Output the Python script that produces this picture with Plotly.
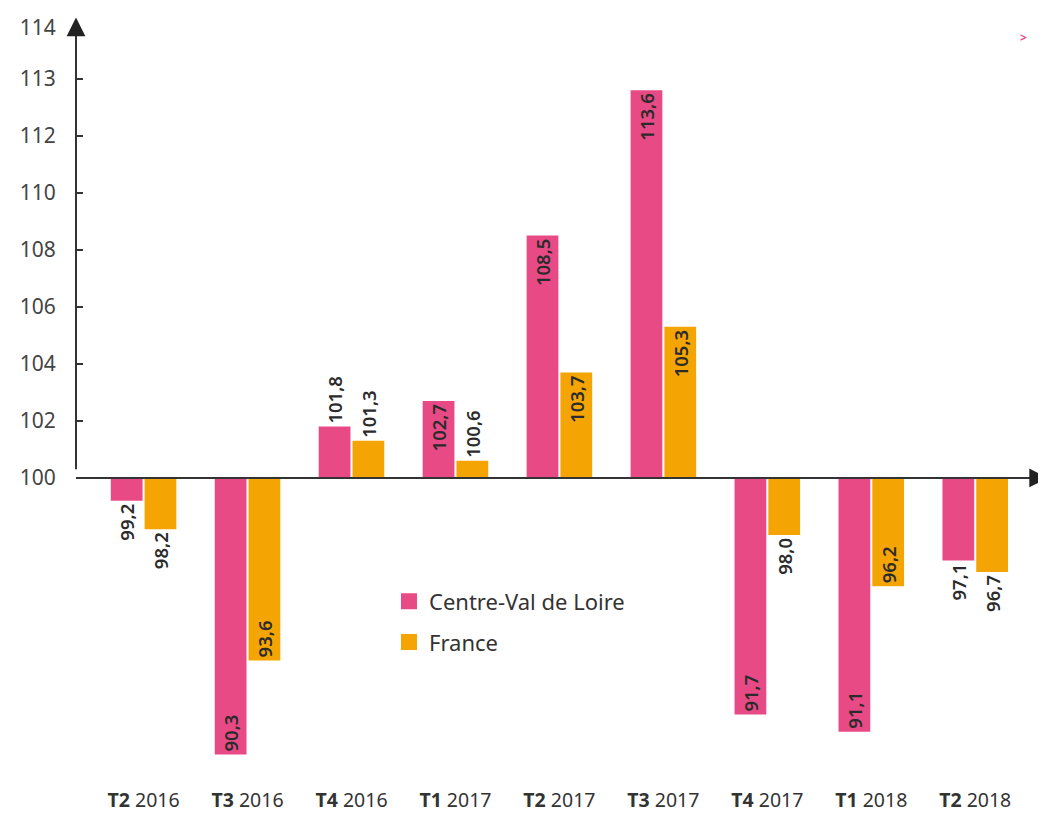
import plotly.graph_objects as go

# ---- data ----
quarters = ["T2", "T3", "T4", "T1", "T2", "T3", "T4", "T1", "T2"]
years = ["2016", "2016", "2016", "2017", "2017", "2017", "2017", "2018", "2018"]
centre_vals = [99.2, 90.3, 101.8, 102.7, 108.5, 113.6, 91.7, 91.1, 97.1]
france_vals = [98.2, 93.6, 101.3, 100.6, 103.7, 105.3, 98.0, 96.2, 96.7]
ytick_vals = [100, 102, 104, 106, 108, 110, 112, 114, 115.8]
ytick_text = ["100", "102", "104", "106", "108", "110", "112", "113", "114"]

BASE = 100
PINK = "#E84A86"
ORANGE = "#F5A503"
TXT = "#2b2b2b"
FONT = "Noto Sans"
YRANGE = [89.37, 116.2]

cats = [f"{q} {y}" for q, y in zip(quarters, years)]
cat_text = [f"<b>{q}</b> {y}" for q, y in zip(quarters, years)]

centre_pos = ["outside", "inside", "outside", "inside", "inside", "inside", "inside", "inside", "outside"]
france_pos = ["outside", "inside", "outside", "outside", "inside", "inside", "outside", "inside", "outside"]


def fmt(v):
    return f"{v:.1f}".replace(".", ",")


lab_font = dict(family=FONT, size=18.5, color=TXT, weight=600)

fig = go.Figure()
for name, vals, col, pos in [("Centre-Val de Loire", centre_vals, PINK, centre_pos),
                             ("France", france_vals, ORANGE, france_pos)]:
    fig.add_trace(go.Bar(
        x=cats, y=[v - BASE for v in vals], base=BASE, name=name,
        marker=dict(color=col, line=dict(width=0)),
        text=[fmt(v) for v in vals], textposition=pos, textangle=-90,
        insidetextanchor="end", constraintext="none",
        textfont=lab_font, outsidetextfont=lab_font, insidetextfont=lab_font,
        cliponaxis=False, showlegend=False,
    ))
    fig.add_trace(go.Scatter(
        x=[None], y=[None], mode="markers", name=name, legendgroup=name,
        marker=dict(symbol="square", size=24, color=col),
        showlegend=True,
    ))

# invisible trace carrying the secondary (tick-mark) axis
fig.add_trace(go.Scatter(x=[None], y=[None], yaxis="y2", showlegend=False, hoverinfo="skip"))

# axis lines
fig.add_shape(type="line", xref="paper", x0=0, x1=0.985, yref="y", y0=BASE, y1=BASE,
              line=dict(color="#333333", width=2))
fig.add_shape(type="line", xref="paper", x0=0, x1=0, yref="y", y0=BASE + 0.3, y1=115.6,
              line=dict(color="#333333", width=2))
# arrow heads
fig.add_annotation(xref="paper", yref="y", x=0, y=116.15, ax=0, ay=18, text="",
                   showarrow=True, arrowhead=2, arrowsize=1.7, arrowwidth=2.2, arrowcolor="#222222")
fig.add_annotation(xref="paper", yref="y", x=1.0, y=BASE, ax=-18, ay=0, text="",
                   showarrow=True, arrowhead=2, arrowsize=1.7, arrowwidth=2.2, arrowcolor="#222222")
# small decorative mark
fig.add_annotation(xref="paper", yref="paper", x=0.98, y=0.985, text="<b>&gt;</b>",
                   showarrow=False, font=dict(family=FONT, size=12, color=PINK))

fig.update_layout(
    width=1046, height=813,
    margin=dict(l=68, r=6, t=8, b=40),
    plot_bgcolor="white", paper_bgcolor="white",
    barmode="group", bargap=0.35, bargroupgap=0.06,
    font=dict(family=FONT, color=TXT),
    legend=dict(x=0.322, y=0.262, xanchor="left", yanchor="top",
                font=dict(family=FONT, size=22, color="#333333"),
                bgcolor="rgba(0,0,0,0)", itemsizing="trace", tracegroupgap=9),
    xaxis=dict(range=[-0.65, 8.70], tickmode="array", tickvals=cats, ticktext=cat_text,
               showgrid=False, zeroline=False, showline=False, ticks="",
               tickfont=dict(family=FONT, size=19.5, color="#333333"), ticklabelstandoff=5),
    yaxis=dict(range=YRANGE, tickmode="array", tickvals=ytick_vals, ticktext=ytick_text,
               showgrid=False, zeroline=False, showline=False,
               ticks="outside", ticklen=15, tickcolor="rgba(0,0,0,0)",
               tickfont=dict(family=FONT, size=21, color="#444444")),
    yaxis2=dict(range=YRANGE, overlaying="y", side="left", tickmode="array",
                tickvals=ytick_vals[1:-1], showticklabels=False,
                showgrid=False, zeroline=False, showline=False,
                ticks="inside", ticklen=7, tickcolor="#333333", tickwidth=2),
)

fig.write_html("out.html")
